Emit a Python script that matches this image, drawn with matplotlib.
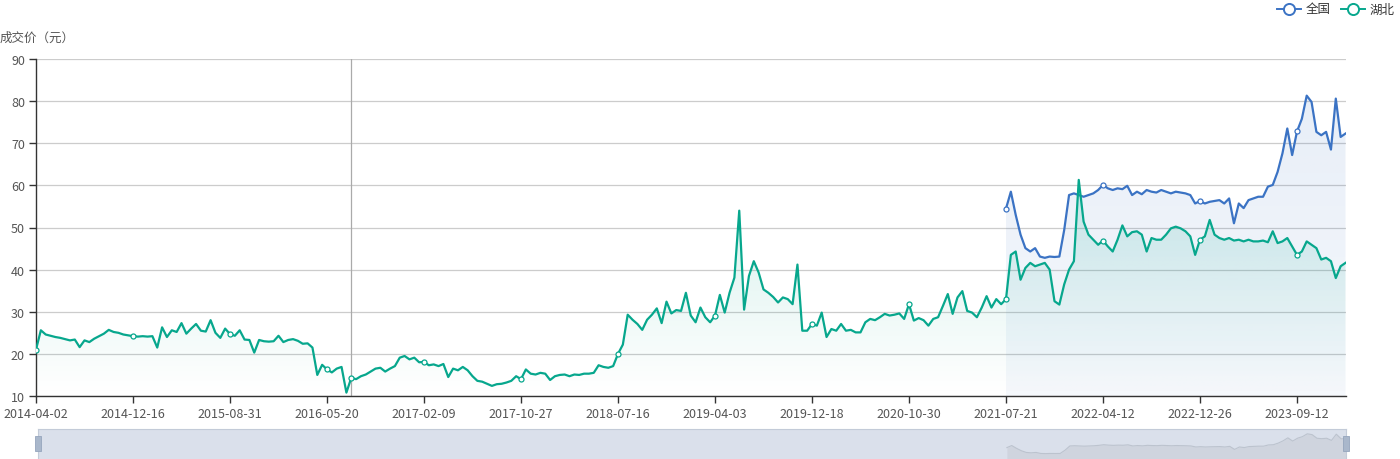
import numpy as np
import matplotlib
matplotlib.use('Agg')
import matplotlib.pyplot as plt
from matplotlib.colors import to_rgb
from matplotlib.lines import Line2D
from matplotlib.patches import Rectangle

plt.rcParams['font.family'] = ['Noto Sans CJK SC', 'DejaVu Sans']

dates = ['2014-04-02', '2014-12-16', '2015-08-31', '2016-05-20', '2017-02-09',
         '2017-10-27', '2018-07-16', '2019-04-03', '2019-12-18', '2020-10-30',
         '2021-07-21', '2022-04-12', '2022-12-26', '2023-09-12']

# 湖北, 20 samples between two date labels
hubei = [
    21.0, 25.6, 24.6, 24.3, 24.0, 23.8, 23.5, 23.2, 23.4, 21.6, 23.2, 22.8, 23.6, 24.2, 24.8, 25.7, 25.2, 25.0, 24.6, 24.4,
    24.2, 24.1, 24.2, 24.1, 24.2, 21.5, 26.3, 24.0, 25.6, 25.2, 27.3, 24.8, 26.0, 27.1, 25.5, 25.3, 28.0, 25.0, 23.8, 26.0,
    24.7, 24.3, 25.6, 23.4, 23.3, 20.3, 23.3, 23.0, 22.9, 23.0, 24.3, 22.8, 23.3, 23.5, 23.1, 22.4, 22.5, 21.5, 15.0, 17.4,
    16.3, 15.6, 16.5, 16.9, 10.8, 14.3, 14.0, 14.7, 15.1, 15.8, 16.5, 16.7, 15.8, 16.5, 17.1, 19.1, 19.5, 18.7, 19.1, 18.0,
    18.1, 17.3, 17.5, 17.1, 17.6, 14.5, 16.5, 16.1, 16.9, 16.1, 14.7, 13.6, 13.4, 12.9, 12.4, 12.8, 12.9, 13.2, 13.6, 14.7,
    14.0, 16.3, 15.3, 15.1, 15.5, 15.3, 13.8, 14.7, 15.0, 15.1, 14.7, 15.1, 15.0, 15.3, 15.3, 15.5, 17.3, 16.9, 16.7, 17.1,
    20.0, 22.2, 29.3, 28.1, 27.1, 25.7, 28.1, 29.3, 30.8, 27.3, 32.4, 29.6, 30.4, 30.2, 34.5, 29.1, 27.5, 31.0, 28.7, 27.5,
    29.1, 34.0, 29.8, 34.5, 38.1, 54.0, 30.5, 38.5, 42.0, 39.3, 35.3, 34.5, 33.5, 32.2, 33.4, 33.0, 31.8, 41.2, 25.5, 25.5,
    27.1, 26.7, 29.8, 24.0, 25.9, 25.5, 27.1, 25.5, 25.7, 25.1, 25.1, 27.5, 28.3, 28.0, 28.7, 29.5, 29.1, 29.3, 29.6, 28.3,
    31.8, 27.9, 28.5, 28.0, 26.7, 28.3, 28.7, 31.4, 34.2, 29.5, 33.4, 34.9, 30.2, 29.8, 28.7, 31.0, 33.7, 31.0, 33.0, 31.8,
    33.0, 43.5, 44.3, 37.6, 40.4, 41.6, 40.8, 41.2, 41.6, 40.0, 32.5, 31.7, 36.5, 40.0, 42.0, 61.3, 51.4, 48.3, 47.1, 45.9,
    46.9, 45.5, 44.3, 47.1, 50.5, 47.9, 48.9, 49.1, 48.3, 44.3, 47.5, 47.1, 47.1, 48.3, 49.8, 50.2, 49.8, 49.1, 47.9, 43.5,
    47.1, 47.9, 51.8, 48.3, 47.5, 47.1, 47.5, 46.9, 47.1, 46.7, 47.1, 46.7, 46.7, 46.9, 46.5, 49.1, 46.3, 46.7, 47.5, 45.5,
    43.5, 44.3, 46.7, 45.9, 45.1, 42.4, 42.8, 42.0, 38.0, 40.8, 41.6,
]

# 全国, starts at 2021-07-21
quanguo = [
    54.5, 58.5, 53.0, 48.3, 45.1, 44.3, 45.1, 43.1, 42.8, 43.1, 43.0, 43.1, 49.4, 57.7, 58.1, 57.7, 57.3, 57.7, 58.1, 58.9,
    60.1, 59.3, 58.9, 59.3, 59.1, 59.9, 57.7, 58.5, 57.9, 58.9, 58.5, 58.3, 58.9, 58.5, 58.1, 58.5, 58.3, 58.1, 57.7, 55.7,
    56.3, 55.7, 56.1, 56.3, 56.5, 55.7, 56.9, 51.0, 55.7, 54.6, 56.5, 56.9, 57.3, 57.3, 59.7, 60.1, 63.2, 67.6, 73.5, 67.2,
    72.8, 75.8, 81.3, 79.8, 72.7, 71.9, 72.7, 68.5, 80.6, 71.5, 72.3,
]

step = 20
quanguo_start = 200
pointer_index = 65

BLUE = '#3b73c4'
TEAL = '#07a78d'
W, H = 1400, 460


def fig_box(x0, y0, x1, y1):
    return [x0 / W, 1 - y1 / H, (x1 - x0) / W, (y1 - y0) / H]


def gradient_area(ax, x, y, color, a_top, a_bottom, z):
    poly = ax.fill_between(x, y, 10, facecolor='none', edgecolor='none')
    grad = np.zeros((256, 1, 4))
    grad[:, 0, :3] = to_rgb(color)
    grad[:, 0, 3] = np.linspace(a_bottom, a_top, 256)
    im = ax.imshow(grad, extent=[x[0], x[-1], 10, max(y)], origin='lower',
                   aspect='auto', zorder=z, interpolation='bilinear')
    im.set_clip_path(poly.get_paths()[0], transform=ax.transData)


fig = plt.figure(figsize=(W / 100, H / 100), dpi=100)
ax = fig.add_axes(fig_box(36, 60, 1345.5, 397))

x_h = np.arange(len(hubei))
x_q = np.arange(quanguo_start, quanguo_start + len(quanguo))

gradient_area(ax, x_q, quanguo, BLUE, 0.12, 0.05, 1)
gradient_area(ax, x_h, hubei, TEAL, 0.17, 0.0, 2)

ax.axvline(pointer_index, color='#aaaaaa', lw=0.9, zorder=2.5)

marks_q = list(range(0, len(quanguo), step))
marks_h = sorted(list(range(0, len(hubei), step)) + [pointer_index])
ax.plot(x_q, quanguo, color=BLUE, lw=1.6, zorder=4, marker='o', markevery=marks_q,
        ms=3.6, mfc='white', mec=BLUE, mew=0.9)
ax.plot(x_h, hubei, color=TEAL, lw=1.6, zorder=5, marker='o', markevery=marks_h,
        ms=3.6, mfc='white', mec=TEAL, mew=0.9)

ax.set_xlim(0, len(hubei) - 1)
ax.set_ylim(10, 90)
ax.set_yticks(range(10, 91, 10))
ax.set_xticks(np.arange(len(dates)) * step)
ax.set_xticklabels(dates)
ax.yaxis.grid(True, color='#cccccc', lw=0.9)
ax.set_axisbelow(True)
for side in ['top', 'right']:
    ax.spines[side].set_visible(False)
for side in ['left', 'bottom']:
    ax.spines[side].set_color('#333333')
    ax.spines[side].set_linewidth(1.0)
ax.tick_params(axis='both', length=5, width=1, color='#333333', labelcolor='#555555',
               labelsize=9, pad=3)

fig.text(0, 1 - 38 / H, '成交价（元）', ha='left', va='center', fontsize=9, color='#555555')

# legend
for name, color, x0 in [('全国', BLUE, 1277), ('湖北', TEAL, 1341)]:
    fig.add_artist(Line2D([x0 / W, (x0 + 24) / W], [1 - 10 / H, 1 - 10 / H], color=color, lw=1.4))
    fig.add_artist(Line2D([(x0 + 12) / W], [1 - 10 / H], marker='o', ms=8, mfc='white',
                          mec=color, mew=1.4))
    fig.text((x0 + 29) / W, 1 - 10 / H, name, ha='left', va='center', fontsize=9, color='#333333')

# data zoom slider
pax = fig.add_axes(fig_box(38, 430, 1346, 460))
pax.set_facecolor('#dae0eb')
pax.fill_between(x_q, quanguo, 0, color='#cfd4de', lw=0)
pax.plot(x_q, quanguo, color='#bcc3ce', lw=0.8)
pax.set_xlim(0, len(hubei) - 1)
pax.set_ylim(32.3, 90.7)
pax.set_xticks([])
pax.set_yticks([])
for side in pax.spines:
    pax.spines[side].set_color('#c3cbd8')
pax.spines['bottom'].set_visible(False)
for hx in [35, 1343]:
    fig.add_artist(Rectangle(((hx) / W, 1 - 452 / H), 6 / W, 15 / H, facecolor='#a9b7cb',
                             edgecolor='#95a5bd', lw=0.6))

fig.savefig('out.png', dpi=100)
